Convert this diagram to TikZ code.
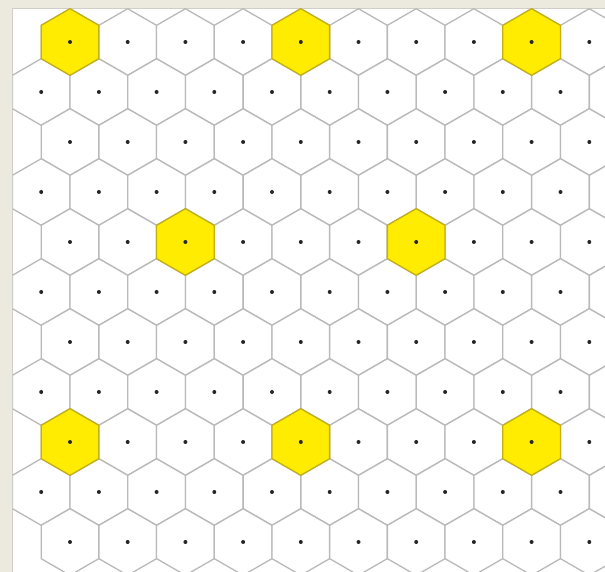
\documentclass[tikz,border=0pt]{standalone}
\usepackage{tikz}
\definecolor{panel}{RGB}{236,233,223}
\definecolor{panelrule}{RGB}{208,206,198}
\definecolor{cellgrey}{RGB}{185,185,185}
\definecolor{cellgold}{RGB}{255,236,0}
\definecolor{cellrim}{RGB}{196,176,20}
\begin{document}
\begin{tikzpicture}[x=0.03cm, y=-0.03cm]
    \tikzset{
        cell/.pic={
                \path[pic actions] (30:33.3) -- (90:33.3) -- (150:33.3) -- (210:33.3) -- (270:33.3) -- (330:33.3) -- cycle;
            },
        cell plain/.style={draw=cellgrey, fill=white, line width=1.1pt, line join=round},
        cell used/.style={draw=cellrim, fill=cellgold, line width=1.1pt, line join=round},
        cell dot/.style={fill=black!85}
    }
    \useasboundingbox (0,0) rectangle (605,572);
    \fill[panel] (0,0) rectangle (605,572);
    \draw[panelrule, fill=white, line width=0.8pt] (12,8.5) rectangle (620,590);
    \clip (12.4,8.9) rectangle (605,572);

    % plain cells
    \foreach \r in {0,...,10} {
        \pgfmathsetmacro\xo{mod(\r,2)==0 ? 70 : 41.2}
        \foreach \k in {0,...,10} {
            \pic[cell plain] at (\xo+57.7*\k, 42+50*\r) {cell};
        }
    }
    % co-channel cells
    \foreach \r/\k in {0/0, 0/4, 0/8, 4/2, 4/6, 8/0, 8/4, 8/8} {
        \pic[cell used] at (70+57.7*\k, 42+50*\r) {cell};
    }
    % centres
    \foreach \r in {0,...,10} {
        \pgfmathsetmacro\xo{mod(\r,2)==0 ? 70 : 41.2}
        \foreach \k in {0,...,10} {
            \fill[cell dot] (\xo+57.7*\k, 42+50*\r) circle (2.0);
        }
    }
\end{tikzpicture}
\end{document}
